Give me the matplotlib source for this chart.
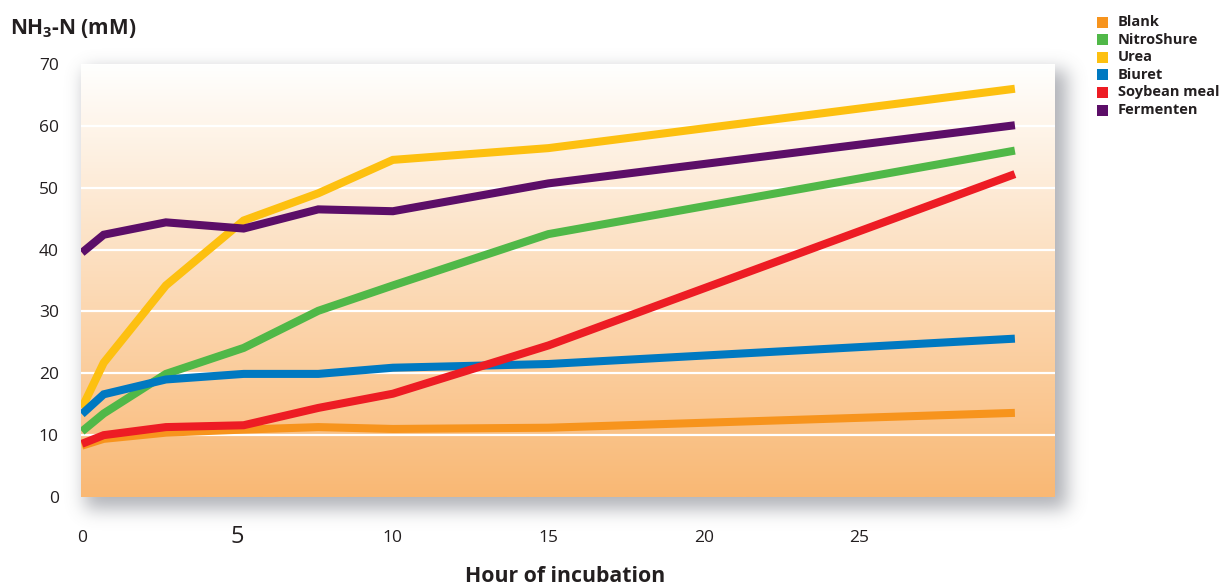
import numpy as np
import matplotlib
matplotlib.use("Agg")
import matplotlib.pyplot as plt
from matplotlib.patches import Rectangle

# Incubation time points (hours) and NH3-N concentrations (mM)
hours = [0, 0.7, 2.7, 5.2, 7.6, 10, 15, 30]
blank = [8.3, 9.4, 10.4, 10.9, 11.3, 11.0, 11.2, 13.6]
nitroshure = [10.6, 13.5, 19.9, 24.1, 30.1, 34.2, 42.5, 56.0]
urea = [14.4, 21.7, 34.2, 44.7, 49.1, 54.5, 56.4, 66.0]
biuret = [13.4, 16.6, 19.0, 19.9, 19.9, 20.9, 21.5, 25.6]
soybean = [8.6, 10.0, 11.3, 11.6, 14.4, 16.7, 24.5, 52.2]
fermenten = [39.5, 42.4, 44.4, 43.4, 46.5, 46.2, 50.7, 60.1]

series_names = ["Blank", "NitroShure", "Urea", "Biuret", "Soybean meal", "Fermenten"]
series_values = [blank, nitroshure, urea, biuret, soybean, fermenten]
series_colors = ["#f7941d", "#50b848", "#fdc010", "#0079c1", "#ed1c24", "#5c0e68"]

x_ticks = [0, 5, 10, 15, 20, 25]
y_ticks = [0, 10, 20, 30, 40, 50, 60, 70]

TEXT = "#231f20"
FONT = ["Open Sans", "DejaVu Sans"]
plt.rcParams["font.family"] = FONT
plt.rcParams["mathtext.fontset"] = "custom"
plt.rcParams["mathtext.rm"] = "Open Sans:bold"
plt.rcParams["mathtext.default"] = "rm"

W, H = 1219, 586
fig = plt.figure(figsize=(W / 100, H / 100), dpi=100)

# plot box in pixels
L, R, T, B = 81, 1055, 64, 497

# soft drop shadow behind the plot box
def blur1d(a, sigma, axis):
    r = int(3 * sigma)
    k = np.exp(-0.5 * (np.arange(-r, r + 1) / sigma) ** 2)
    k /= k.sum()
    return np.apply_along_axis(lambda v: np.convolve(v, k, mode="same"), axis, a)

mask = np.zeros((H, W))
mask[T + 6:B + 12, L + 4:R + 12] = 1.0
mask = blur1d(blur1d(mask, 9, 0), 9, 1)
shadow = np.zeros((H, W, 4))
shadow[..., 0] = 0.45
shadow[..., 1] = 0.46
shadow[..., 2] = 0.50
shadow[..., 3] = mask * 0.55
bg = fig.add_axes([0, 0, 1, 1], zorder=0)
bg.imshow(shadow, extent=[0, W, H, 0], interpolation="bilinear")
bg.set_xlim(0, W)
bg.set_ylim(H, 0)
bg.axis("off")

ax = fig.add_axes([L / W, 1 - B / H, (R - L) / W, (B - T) / H], zorder=1)
ax.set_xlim(-0.03, 31.29)
ax.set_ylim(0, 70)

# vertical gradient fill of the plot box
top_c = np.array([255, 255, 254]) / 255
bot_c = np.array([249, 184, 116]) / 255
t = np.linspace(0, 1, 256)[:, None]
grad = top_c[None, :] * (1 - t) + bot_c[None, :] * t
ax.imshow(grad[:, None, :], extent=[-0.03, 31.29, 0, 70], aspect="auto",
          interpolation="bilinear", zorder=0)

for y in y_ticks[1:-1]:
    ax.axhline(y, color="white", lw=1.6, zorder=1)

for vals, col in zip(series_values, series_colors):
    ax.plot(hours, vals, color=col, lw=5.8, solid_capstyle="butt",
            solid_joinstyle="miter", zorder=3)

for s in ax.spines.values():
    s.set_visible(False)
ax.set_xticks(x_ticks)
ax.set_yticks(y_ticks)
ax.set_xticklabels([str(v) for v in x_ticks])
ax.set_yticklabels([str(v) for v in y_ticks])
ax.tick_params(length=0, colors=TEXT, labelsize=12.5)
ax.tick_params(axis="x", pad=24)
ax.tick_params(axis="y", pad=16)
for lab in ax.get_xticklabels():
    if lab.get_text() == "5":
        lab.set_fontsize(17)
        lab.set_y(0.012)

fig.text(565 / W, 1 - 577 / H, "Hour of incubation", ha="center", va="center",
         fontsize=15.3, fontweight="bold", color=TEXT)
fig.text(10 / W, 1 - 34 / H, r"NH$_3$-N (mM)", ha="left", va="baseline",
         fontsize=15, fontweight="bold", color=TEXT)

# legend
for i, (name, col) in enumerate(zip(series_names, series_colors)):
    yc = 22 + i * 17.6
    fig.patches.append(Rectangle((1097 / W, 1 - (yc + 5.5) / H), 11 / W, 11 / H,
                                 transform=fig.transFigure, facecolor=col,
                                 edgecolor="none", zorder=2))
    fig.text(1118 / W, 1 - yc / H, name, ha="left", va="center", fontsize=10.5,
             fontweight="bold", color=TEXT)

fig.savefig("out.png", dpi=100)
